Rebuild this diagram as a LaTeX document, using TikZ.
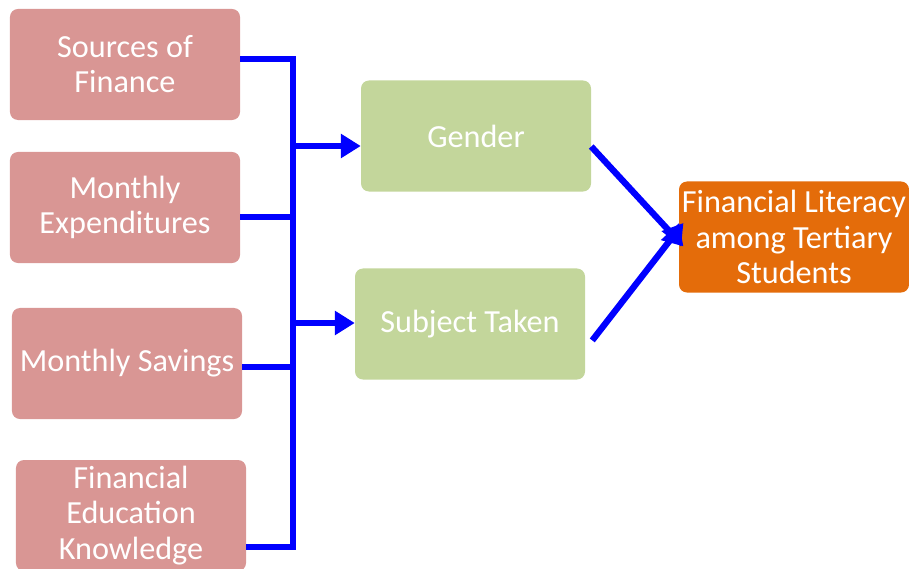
\documentclass[tikz,border=0pt]{standalone}
\usepackage{fontspec}
\setmainfont{Carlito}
\usetikzlibrary{arrows.meta}
\definecolor{factorpink}{HTML}{D99694}
\definecolor{mediatorgreen}{HTML}{C3D69B}
\definecolor{outcomeorange}{HTML}{E46C0A}
\tikzset{
  box/.style={rounded corners=0.24cm,text=white,align=center,inner sep=1pt,
    minimum width=6.9cm,minimum height=3.33cm,
    font=\fontsize{27.5}{30}\selectfont},
  factor/.style={box,fill=factorpink},
  mediator/.style={box,fill=mediatorgreen},
  outcome/.style={box,fill=outcomeorange},
  link/.style={draw=blue,line width=0.19cm},
  arr/.style={link,-{Triangle[length=0.6cm,width=0.7cm]}}
}
\begin{document}
\begin{tikzpicture}[x=0.03cm,y=-0.03cm]
\useasboundingbox (0,0) rectangle (909,569);
\node[factor] (src) at (125,64.5) {Sources of\\Finance};
\node[factor] (exp) at (125,207.5) {Monthly\\Expenditures};
\node[factor] (sav) at (127,363.5) {Monthly Savings};
\node[factor] (edu) at (131,515.5) {Financial\\Education\\Knowledge};
\node[mediator] (gen) at (476,136) {Gender};
\node[mediator] (sub) at (470,324) {Subject Taken};
\node[outcome] (lit) at (794,237) {Financial Literacy\\among Tertiary\\Students};
\coordinate (bustop) at (293,59);
\coordinate (busbot) at (293,547);
\coordinate (b2) at (293,217);
\coordinate (b3) at (293,367);
\coordinate (ga) at (293,146);
\coordinate (sa) at (293,323);
\draw[link] (bustop -| src.east) -- (bustop) -- (busbot) -- (busbot -| edu.east);
\draw[link] (b2 -| exp.east) -- (b2);
\draw[link] (b3 -| sav.east) -- (b3);
\draw[arr] (ga) -- (ga -| gen.west);
\draw[arr] (sa) -- (sa -| sub.west);
\draw[arr] ([yshift=-9]gen.east) -- ([xshift=4,yshift=-8]lit.west);
\draw[arr] ([xshift=6,yshift=-14]sub.east) -- ([xshift=4,yshift=12]lit.west);
\end{tikzpicture}
\end{document}
